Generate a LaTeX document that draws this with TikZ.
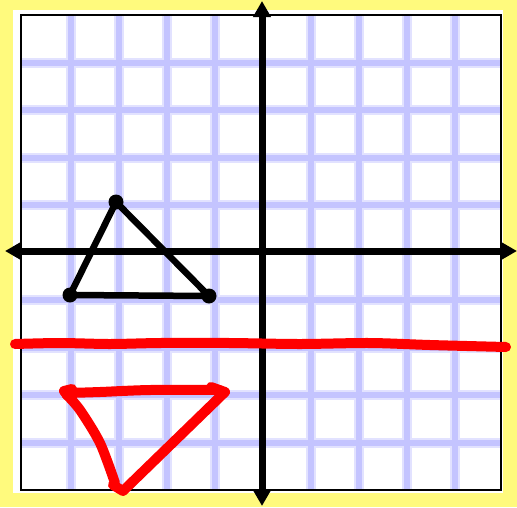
\documentclass[tikz,border=0pt]{standalone}
\usetikzlibrary{arrows.meta}
\definecolor{bgyellow}{RGB}{255,250,125}
\definecolor{gridcore}{RGB}{196,196,255}
\definecolor{gridhalo}{RGB}{226,226,255}
\definecolor{penred}{RGB}{255,0,0}
\tikzset{
  halo/.style={draw=gridhalo,line width=10pt},
  core/.style={draw=gridcore,line width=6pt},
  axisline/.style={line width=7pt,-{Triangle[length=16pt,width=17pt]}},
  triline/.style={line width=6.5pt,line join=round,line cap=round},
  pen/.style={draw=penred,line width=10pt,line join=round,line cap=round},
  vdot/.style={circle,fill=black,inner sep=0pt,minimum size=15pt}
}
\begin{document}
\begin{tikzpicture}[x=1pt,y=-1pt]
\useasboundingbox (0,0) rectangle (517,507);
\fill[bgyellow] (0,0) rectangle (517,507);
\fill[white] (13,10) rectangle (503,493);
% grid
\begin{scope}
\clip (21,15) rectangle (501,490);
\foreach \gx in {71,119,167,215,311,359,407,455}{
  \draw[halo] (\gx,15) -- (\gx,490);}
\foreach \gy in {62.5,110,157.5,205,300,347.5,395,442.5}{
  \draw[halo] (21,\gy) -- (501,\gy);}
\foreach \gx in {71,119,167,215,311,359,407,455}{
  \draw[core] (\gx,15) -- (\gx,490);}
\foreach \gy in {62.5,110,157.5,205,300,347.5,395,442.5}{
  \draw[core] (21,\gy) -- (501,\gy);}
\end{scope}
\draw[line width=2.5pt] (21,15) rectangle (501,490);
% axes
\coordinate (o) at (262,251);
\coordinate (top) at (262,1);
\coordinate (bot) at (262,506);
\coordinate (lft) at (5,251);
\coordinate (rgt) at (517,251);
\draw[axisline] (o) -- (top);
\draw[axisline] (o) -- (bot);
\draw[axisline] (o) -- (lft);
\draw[axisline] (o) -- (rgt);
% black triangle
\node[vdot] (A) at (116,202) {};
\node[vdot] (B) at (70,295) {};
\node[vdot] (C) at (209,296) {};
\draw[triline] (A.center) -- (B.center) -- (C.center) -- cycle;
% red line
\draw[pen] plot[smooth,tension=0.5] coordinates {(15,344) (60,343) (110,344) (160,343) (230,343) (300,344) (370,343) (430,345) (506,347)};
% red triangle
\draw[pen] (72,389) -- (64,391) -- (68,396);
\draw[pen] plot[smooth,tension=0.5] coordinates {(66,394) (80,410) (100,443) (115,483)};
\draw[pen] (113,485) -- (123,491) -- (225,392) -- (211,387);
\draw[pen] plot[smooth,tension=0.5] coordinates {(220,390) (150,390) (100,392) (68,393)};
\end{tikzpicture}
\end{document}
